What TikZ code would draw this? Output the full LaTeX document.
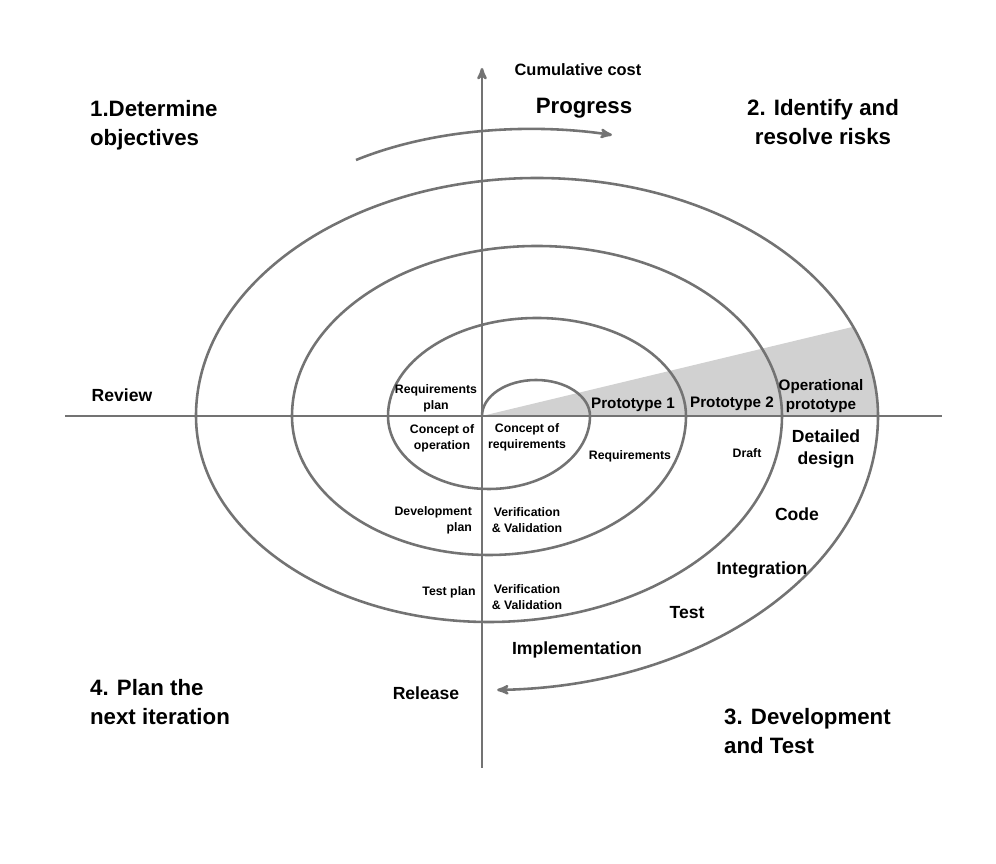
\documentclass[tikz,border=0pt]{standalone}
\usepackage{fontspec}
\setmainfont{Liberation Sans}
\usetikzlibrary{arrows,positioning}
\tikzset{
    %Define standard arrow tip
    >=stealth',
    % spiral and axes
    axis/.style={draw=black!55, line width=2.2pt},
    spiral/.style={draw=black!55, line width=2.2pt},
    % text styles
    big/.style={font=\bfseries\fontsize{19}{25}\selectfont, align=left},
    mid/.style={font=\bfseries\fontsize{15}{19}\selectfont, align=center},
    small/.style={font=\bfseries\fontsize{10.5}{13.5}\selectfont, align=center},
    proto/.style={font=\bfseries\fontsize{13}{16}\selectfont, align=center}
}
\begin{document}
\begin{tikzpicture}[x=0.03cm,y=0.03cm]
  \useasboundingbox (0,0) rectangle (996,864);
  % shaded prototype wedge
  \fill[black!18] (482,448) -- (853.2,537.2)
    arc[start angle=22, end angle=0, x radius=341, y radius=238] -- cycle;
  % axes
  \coordinate (west) at (65,448);
  \coordinate (east) at (942,448);
  \coordinate (south) at (482,96);
  \coordinate (north) at (482,796);
  \draw[axis] (west) -- (east);
  \draw[axis,->] (south) -- (north);
  % spiral
  \coordinate (origin) at (482,448);
  \draw[spiral,->] (origin)
    arc[start angle=180, end angle=0, x radius=54, y radius=36]
    arc[start angle=0, end angle=-180, x radius=101, y radius=73]
    arc[start angle=180, end angle=0, x radius=149, y radius=98]
    arc[start angle=0, end angle=-180, x radius=197, y radius=139]
    arc[start angle=180, end angle=0, x radius=245, y radius=170]
    arc[start angle=0, end angle=-180, x radius=293, y radius=206]
    arc[start angle=180, end angle=0, x radius=341, y radius=238]
    arc[start angle=0, end angle=-88.8, x radius=389, y radius=274];
  % progress arrow
  \coordinate (prog-a) at (356,704);
  \coordinate (prog-b) at (612,729);
  \draw[spiral,->] (prog-a) .. controls (440,738) and (540,740) .. (prog-b);
  % quadrant titles
  \node[big, anchor=west] (q1) at (86,739) {1.Determine\\objectives};
  \node[big, align=center] (q2) at (823,742) {2. Identify and\\resolve risks};
  \node[big, anchor=west] (q4) at (86,162) {4. Plan the\\next iteration};
  \node[big, anchor=west] (q3) at (720,133) {3. Development\\and Test};
  \node[big] (progress) at (584,756) {Progress};
  \node[mid, font=\bfseries\fontsize{14}{17}\selectfont] (cost) at (578,794) {Cumulative cost};
  \node[mid] (review) at (122,469) {Review};
  \node[mid] (release) at (426,171) {Release};
  % development steps
  \node[mid] (impl) at (577,214) {Implementation};
  \node[mid] (test) at (687,251) {Test};
  \node[mid] (integ) at (762,294) {Integration};
  \node[mid] (code) at (797,350) {Code};
  \node[mid] (design) at (826,415) {Detailed\\design};
  % prototypes
  \node[proto] (oper) at (821,468) {Operational\\prototype};
  \node[proto] (proto2) at (732,460) {Prototype 2};
  \node[proto] (proto1) at (633,459) {Prototype 1};
  % inner labels
  \node[small] (draft) at (747,411) {Draft};
  \node[small] (reqs) at (630,408) {Requirements};
  \node[small] (reqplan) at (436,466) {Requirements\\plan};
  \node[small] (conop) at (442,426) {Concept of\\operation};
  \node[small] (conreq) at (527,427) {Concept of\\requirements};
  \node[small, align=right, anchor=east] (devplan) at (476,344) {Development\\plan};
  \node[small] (vv1) at (527,344) {Verification\\\& Validation};
  \node[small] (testplan) at (449,272) {Test plan};
  \node[small] (vv2) at (527,267) {Verification\\\& Validation};
\end{tikzpicture}
\end{document}
